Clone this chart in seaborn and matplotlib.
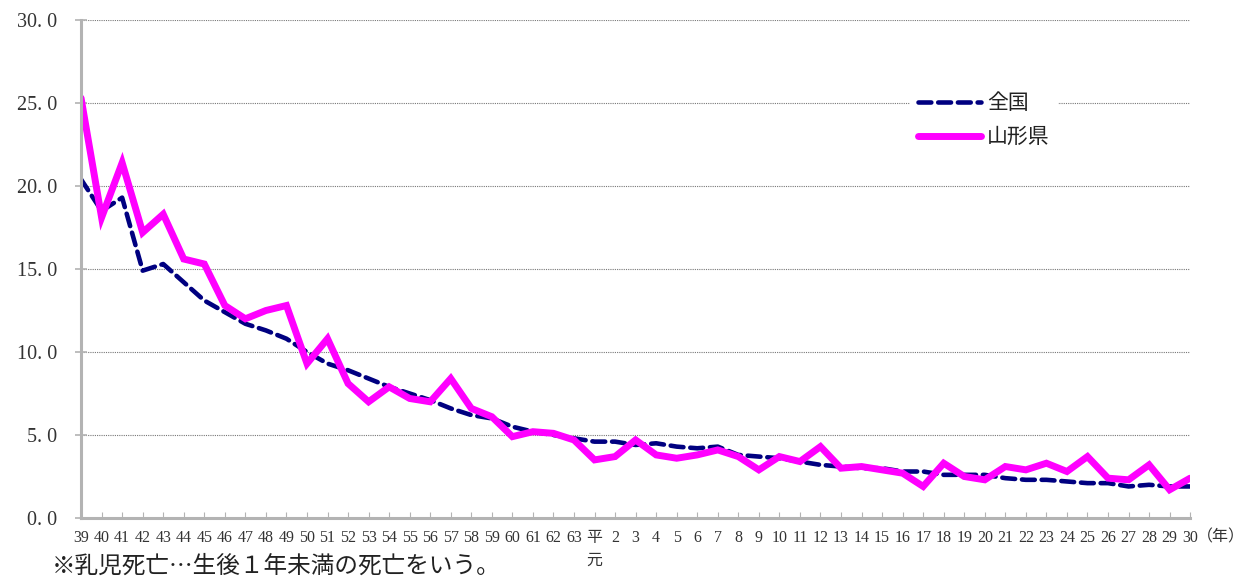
import pandas as pd
import matplotlib
matplotlib.use("Agg")
import matplotlib.pyplot as plt
import seaborn as sns

# x labels: Showa 39-63, Heisei 元-30
years = [str(y) for y in range(39, 64)] + ["平\n元"] + [str(y) for y in range(2, 31)]

national = [20.4, 18.5, 19.3, 14.9, 15.3, 14.2, 13.1, 12.4, 11.7, 11.3,
            10.8, 10.0, 9.3, 8.9, 8.4, 7.9, 7.5, 7.1, 6.6, 6.2,
            6.0, 5.5, 5.2, 5.0, 4.8, 4.6, 4.6, 4.4, 4.5, 4.3,
            4.2, 4.3, 3.8, 3.7, 3.6, 3.4, 3.2, 3.1, 3.0, 3.0,
            2.8, 2.8, 2.6, 2.6, 2.6, 2.4, 2.3, 2.3, 2.2, 2.1,
            2.1, 1.9, 2.0, 1.9, 1.9]

yamagata = [25.3, 18.1, 21.4, 17.2, 18.3, 15.6, 15.3, 12.8, 12.0, 12.5,
            12.8, 9.3, 10.8, 8.1, 7.0, 7.9, 7.2, 7.0, 8.4, 6.6,
            6.1, 4.9, 5.2, 5.1, 4.7, 3.5, 3.7, 4.7, 3.8, 3.6,
            3.8, 4.1, 3.7, 2.9, 3.7, 3.4, 4.3, 3.0, 3.1, 2.9,
            2.7, 1.9, 3.3, 2.5, 2.3, 3.1, 2.9, 3.3, 2.8, 3.7,
            2.4, 2.3, 3.2, 1.7, 2.4]

df = pd.DataFrame({"pos": range(len(years)), "全国": national, "山形県": yamagata})

sns.set_theme(style="white")
plt.rcParams["font.family"] = ["Liberation Serif", "Noto Sans CJK JP"]

fig = plt.figure(figsize=(12.49, 5.76), dpi=100)
ax = fig.add_axes([0.0649, 0.1007, 0.888, 0.8646])

sns.lineplot(data=df, x="pos", y="全国", ax=ax, color="#000080", linewidth=3.3,
             label="全国", dashes=(2.8, 1.5), dash_capstyle="round")
sns.lineplot(data=df, x="pos", y="山形県", ax=ax, color="#FF00FF", linewidth=5,
             label="山形県", solid_capstyle="round", solid_joinstyle="miter")

ax.set_xlim(0, len(years) - 1)
ax.set_ylim(0, 30)
ax.set_xlabel("")
ax.set_ylabel("")

yt = [0, 5, 10, 15, 20, 25, 30]
ax.set_yticks(yt)
ax.set_yticklabels([f"{v:.1f}".replace(".", ". ") for v in yt], fontsize=14.5, color="#333333")
ax.set_xticks(range(len(years)))
ax.set_xticklabels(years, fontsize=11.5, color="#333333", linespacing=1.5)
for lab in ax.get_xticklabels():
    lab.set_verticalalignment("top")

ax.yaxis.grid(True, linestyle=(0, (1, 1)), color="#777777", linewidth=0.8)
ax.xaxis.grid(False)

for s in ["top", "right"]:
    ax.spines[s].set_visible(False)
for s in ["left", "bottom"]:
    ax.spines[s].set_color("#b3b3b3")
    ax.spines[s].set_linewidth(2.2)

ax.tick_params(axis="y", direction="inout", length=9, width=1.2, color="#b3b3b3", pad=13, left=True)
ax.tick_params(axis="x", direction="in", length=4, width=0.8, color="#b3b3b3", pad=9, bottom=True)

leg = ax.legend(loc="upper left", bbox_to_anchor=(910 / 1249, 1 - 84 / 576),
                bbox_transform=fig.transFigure, frameon=True, fontsize=15,
                handlelength=3.0, handletextpad=0.3, labelspacing=0.55,
                borderpad=0.4, borderaxespad=0)
leg.get_frame().set_facecolor("white")
leg.get_frame().set_edgecolor("none")
leg.get_frame().set_alpha(1)
for t in leg.get_texts():
    t.set_family(["Noto Sans CJK JP"])
    t.set_color("#222222")

fig.text(1197 / 1249, 1 - 537 / 576, "（年）", fontsize=11.5, va="center", ha="left",
         family=["Noto Sans CJK JP"], color="#333333")
fig.text(52 / 1249, 1 - 566 / 576, "※乳児死亡…生後１年未満の死亡をいう。", fontsize=17,
         va="center", ha="left", family=["Noto Sans CJK JP"], color="#222222")

fig.savefig("out.png", dpi=100)
